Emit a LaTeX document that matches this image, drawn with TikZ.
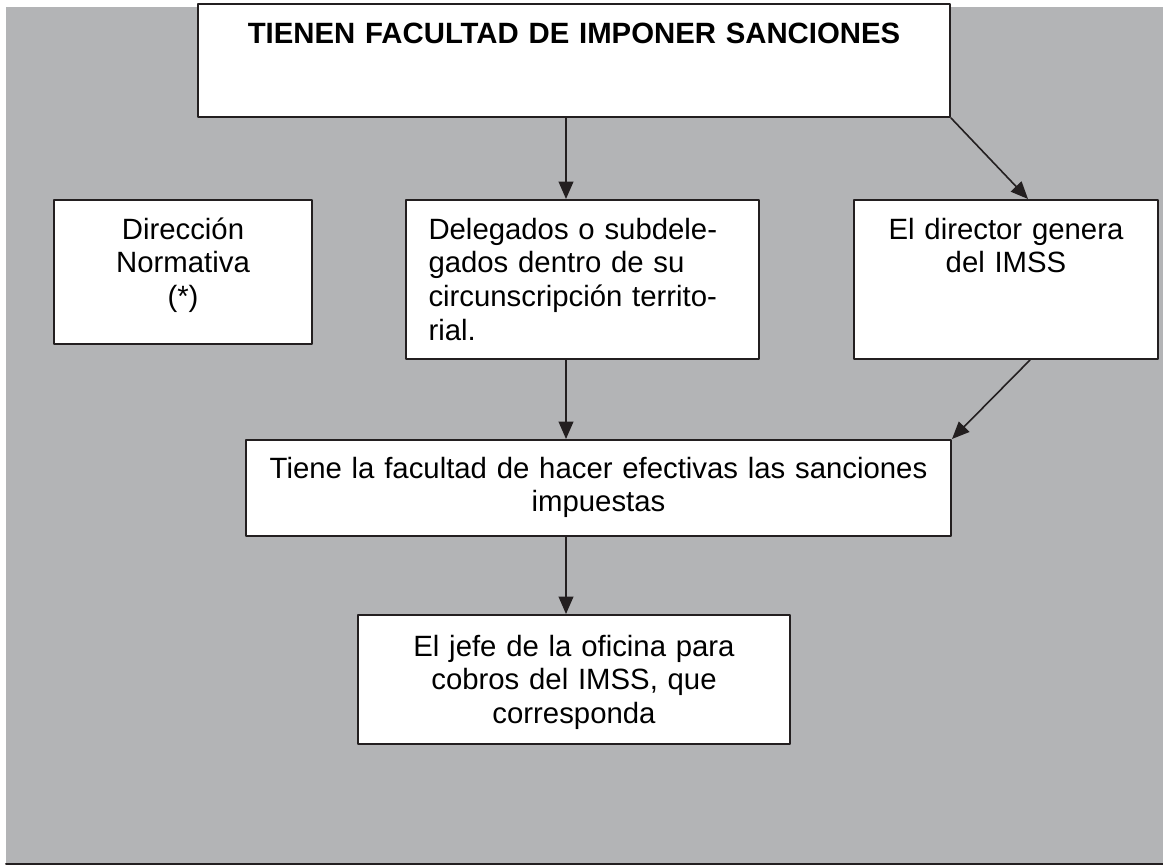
\documentclass[tikz,border=0pt]{standalone}
\usepackage{fontspec}
\setmainfont{Liberation Sans}
\usetikzlibrary{calc}
\usetikzlibrary{arrows.meta}
\usetikzlibrary{positioning}
\definecolor{fondo}{RGB}{179,180,182}
\definecolor{linea}{RGB}{35,31,32}

\begin{document}
\begin{tikzpicture}[x=0.75pt, y=-0.75pt, line cap=round, line join=round,
    >={Triangle[length=13pt, width=11pt]},
    caja/.style={draw=linea, fill=white, line width=1.5pt, inner xsep=0pt, inner ysep=0pt,
      anchor=north west, align=center, font=\fontsize{22}{25.3}\selectfont},
    flecha/.style={->, draw=linea, line width=1.2pt}]
  \useasboundingbox (0,0) rectangle (1163,867);
  %--- Fondo
    \fill[fondo] (6,7) rectangle (1163,863);
    \draw[linea, line width=1.5pt] (6,863.5) -- (1163,863.5);
  %--- Cajas
    \node[caja, text width=564pt, text height=30pt, text depth=54.75pt] (arriba) at (197,3)
      {\bfseries TIENEN FACULTAD DE IMPONER SANCIONES};
    \node[caja, text width=193.5pt, text height=29.25pt, text depth=78.75pt] (direccion) at (53,199)
      {Dirección\\Normativa\\(*)};
    \node[caja, align=left, inner xsep=16.875pt, text width=231pt, text height=29.25pt, text depth=90pt] (delegados) at (405,199)
      {\makebox[\linewidth][s]{Delegados o subdele-}\\
       \makebox[\linewidth][s]{gados dentro de su}\\
       \makebox[\linewidth][s]{circunscripción territo-}\\
       rial.};
    \node[caja, text width=228pt, text height=29.25pt, text depth=90pt] (director) at (853,199)
      {El director genera\\del IMSS};
    \node[caja, text width=528.75pt, text height=28.5pt, text depth=43.5pt] (tiene) at (245,439)
      {Tiene la facultad de hacer efectivas las sanciones\\impuestas};
    \node[caja, text width=324pt, text height=30.75pt, text depth=66pt] (jefe) at (357,614)
      {El jefe de la oficina para\\cobros del IMSS, que\\corresponda};
  %--- Flechas
    \coordinate (eje) at (566,0);
    \draw[flecha] (arriba.south -| eje) -- (delegados.north -| eje);
    \draw[flecha] (arriba.south east) -- ($(director.north west)+(175,0)$);
    \draw[flecha] (delegados.south -| eje) -- (tiene.north -| eje);
    \draw[flecha] ($(director.south west)+(177,0)$) -- (tiene.north east);
    \draw[flecha] (tiene.south -| eje) -- (jefe.north -| eje);
\end{tikzpicture}
\end{document}
